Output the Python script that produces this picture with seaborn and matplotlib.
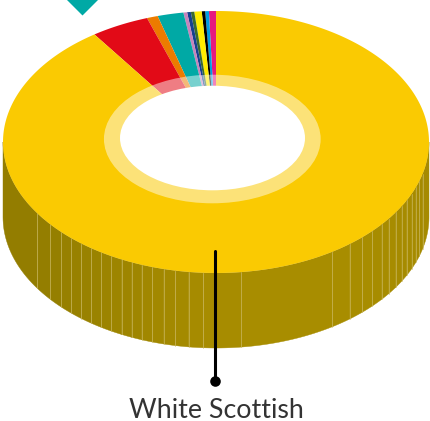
import numpy as np
import matplotlib
matplotlib.use("Agg")
import matplotlib.pyplot as plt
from matplotlib.patches import Ellipse, Polygon, RegularPolygon
import seaborn as sns

# Population shares (per cent), clockwise from twelve o'clock
group_shares = [90.33, 4.42, 0.83, 1.97, 0.28, 0.28, 0.26, 0.56, 0.26, 0.28, 0.53]
group_colours = ["#FACA02", "#E20A17", "#EC7B00", "#00A9A5", "#C684BB", "#16408F",
                 "#3B6B2F", "#FFED00", "#000000", "#009FE3", "#E6197F"]
callout_label = "White Scottish"

# Seams on the visible rim, degrees either side of the front of the disc
rim_seams = [-57.0, -51.1, -46.6, -42.8, -39.2, -35.8, -32.6, -29.5, -26.3, -23.3,
             -20.4, -17.4, -14.2, -11.0, -7.4, -3.4, 6.8, 33.1, 38.9, 43.4, 47.2,
             51.1, 54.2, 57.5, 60.7, 63.5, 66.8, 69.7, 72.6, 76.0]

sns.set_theme(style="white")
plt.rcParams["font.family"] = ["Lato", "DejaVu Sans"]

fig = plt.figure(figsize=(4.30, 4.21), dpi=100, facecolor="white")
ax = fig.add_axes([0, 0, 1, 1])
ax.set_xlim(0, 430)
ax.set_ylim(421, 0)
ax.axis("off")

CX, CY, RX, RY, DEPTH = 216, 142, 213, 131, 75


def rim_point(deg, drop=0.0):
    """Point on the disc edge; deg is measured from the front (six o'clock)."""
    t = np.radians(deg)
    return CX + RX * np.sin(t), CY + RY * np.cos(t) + drop


# Rim facets, shaded from darker on the left to lighter at the front
edges = [-90.0] + rim_seams + [90.0]
shades = sns.blend_palette(["#937D00", "#A88D00"], n_colors=18) + \
    sns.blend_palette(["#A88D00", "#A58A00"], n_colors=len(edges) - 19)
for lo, hi, shade in zip(edges[:-1], edges[1:], shades):
    ts = np.linspace(lo, hi, 24)
    top = [rim_point(a) for a in ts]
    bottom = [rim_point(a, DEPTH) for a in ts[::-1]]
    ax.add_patch(Polygon(top + bottom, closed=True, fc=shade, ec=shade, lw=0.3, zorder=1))
for a in rim_seams:
    x0, y0 = rim_point(a)
    x1, y1 = rim_point(a, DEPTH)
    sns.lineplot(x=[x0, x1], y=[y0, y1], ax=ax, color="#CDBB66", lw=0.7, alpha=0.65,
                 zorder=2, legend=False, estimator=None, sort=False)

# Top face: shares run counter-clockwise from twelve o'clock, largest first on the right
palette = sns.color_palette(group_colours)
cum = np.cumsum([0] + group_shares[::-1]) / 100 * 360
for lo, hi, colour in zip(cum[:-1], cum[1:], palette[::-1]):
    ts = np.radians(np.linspace(lo, hi, 360))
    xs = CX - RX * np.sin(ts)
    ys = CY - RY * np.cos(ts)
    pts = np.column_stack([np.r_[CX, xs], np.r_[CY, ys]])
    ax.add_patch(Polygon(pts, closed=True, fc=colour, ec="none", zorder=3))

# Translucent ring and the central hole
ax.add_patch(Ellipse((212.3, 139), 216.7, 128.6, fc="white", ec="none", alpha=0.47, zorder=4))
ax.add_patch(Ellipse((212.5, 138), 185, 104.6, fc="white", ec="none", zorder=5))

# Teal marker cut off by the top edge
ax.add_patch(RegularPolygon((82.5, 0), 4, radius=15.5, orientation=0, fc="#00A9A5",
                            ec="none", zorder=3))

# Callout for the largest group
sns.lineplot(x=[215.3, 215.3], y=[251, 381], ax=ax, color="black", lw=2.2, zorder=6,
             legend=False, estimator=None, sort=False)
sns.scatterplot(x=[215.3], y=[381.3], ax=ax, color="black", s=58, linewidth=0, zorder=7,
                legend=False)
ax.text(216, 418.3, callout_label, ha="center", va="baseline", fontsize=19.3,
        fontweight="normal", color="#333333", zorder=7)

ax.set_xlim(0, 430)
ax.set_ylim(421, 0)
ax.set_xlabel("")
ax.set_ylabel("")
fig.savefig("out.png", dpi=100, facecolor="white")
